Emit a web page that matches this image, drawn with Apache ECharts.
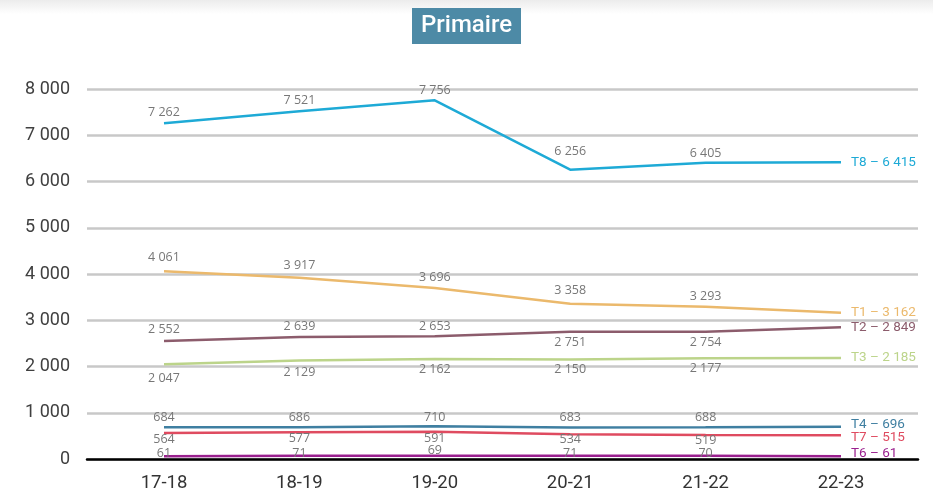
<!DOCTYPE html>
<html><head><meta charset="utf-8">
<script src="https://cdn.jsdelivr.net/npm/echarts@6/dist/echarts.min.js"></script>
<style>html,body{margin:0;padding:0;background:#fff}#c{width:933px;height:493px}</style>
</head><body><div id="c"></div>
<script>
const categories = ['17-18','18-19','19-20','20-21','21-22','22-23'];
const yTicks = [0,1000,2000,3000,4000,5000,6000,7000,8000];
const T8 = [7262, 7521, 7756, 6256, 6405, 6415];
const T1 = [4061, 3917, 3696, 3358, 3293, 3162];
const T2 = [2552, 2639, 2653, 2751, 2754, 2849];
const T3 = [2047, 2129, 2162, 2150, 2177, 2185];
const T4 = [684, 686, 710, 683, 688, 696];
const T7 = [564, 577, 591, 534, 519, 515];
const T6 = [61, 71, 69, 71, 70, 61];

const fmt = v => String(v).replace(/\B(?=(\d{3})+(?!\d))/g, ' ');
const labelFont = "'Open Sans', sans-serif";

function mkPos(name, data, color, positions, endOffsetY, dists) {
  return {
    name, type: 'line', xAxisIndex: 1, yAxisIndex: 1,
    data: data.map((v, i) => ({
      value: v,
      label: { show: i !== data.length - 1, position: positions[i], distance: dists[i] }
    })),
    symbol: 'circle', symbolSize: 0.1, showSymbol: true, smooth: false,
    lineStyle: { color, width: 2.5 },
    itemStyle: { color },
    label: {
      show: true, color: '#777', fontSize: 12.5, fontFamily: labelFont,
      formatter: p => fmt(p.value)
    },
    endLabel: {
      show: true, distance: 10, offset: [0, endOffsetY || 0],
      color, fontSize: 13.5, fontFamily: 'Roboto, sans-serif',
      formatter: p => name + ' \u2013 ' + fmt(p.value)
    },
    z: 6
  };
}

const chart = echarts.init(document.getElementById('c'), null, { renderer: 'canvas' });
const T = 'top', B = 'bottom';
chart.setOption({
  animation: false,
  backgroundColor: '#fff',
  graphic: [{
    type: 'rect', left: 0, top: 0, z: -10,
    shape: { width: 933, height: 14 },
    style: { fill: new echarts.graphic.LinearGradient(0, 0, 0, 1, [
      { offset: 0, color: '#ececec' }, { offset: 1, color: '#ffffff' }]) }
  }],
  title: {
    text: 'Primaire', left: 'center', top: 8,
    backgroundColor: '#4d8aa6', padding: [5, 9, 5, 9],
    textStyle: { color: '#fff', fontSize: 24, fontWeight: 500, fontFamily: 'Roboto, sans-serif', lineHeight: 26 }
  },
  grid: [
    { left: 87, right: 15, top: 89, bottom: 34 },
    { left: 164, right: 92, top: 89, bottom: 34 }
  ],
  xAxis: [
    { type: 'category', gridIndex: 0, data: categories, boundaryGap: true,
      axisLine: { show: true, lineStyle: { color: '#000', width: 2.5 } },
      axisTick: { show: false }, axisLabel: { show: false }, splitLine: { show: false }, z: 5 },
    { type: 'category', gridIndex: 1, data: categories, boundaryGap: false,
      axisLine: { show: false }, axisTick: { show: false }, splitLine: { show: false },
      axisLabel: { color: '#333', fontSize: 18.5, margin: 15, fontFamily: 'Roboto, sans-serif' } }
  ],
  yAxis: [
    { type: 'value', gridIndex: 0, min: 0, max: 8000, interval: 1000,
      axisLine: { show: false }, axisTick: { show: false },
      splitLine: { show: true, lineStyle: { color: '#c8c8c8', width: 2.5 } },
      axisLabel: { color: '#404040', fontSize: 18, margin: 17, fontFamily: 'Roboto, sans-serif',
        formatter: v => yTicks.includes(v) ? fmt(v) : '' } },
    { type: 'value', gridIndex: 1, min: 0, max: 8000, interval: 1000, show: false,
      splitLine: { show: false } }
  ],
  series: [
    mkPos('T8', T8, '#1eaad6', [T,T,T,T,T,T], 0, [4,4,3,12,3,3]),
    mkPos('T1', T1, '#ebb96c', [T,T,T,T,T,T], 0, [7,6,4,7,4,4]),
    mkPos('T2', T2, '#8c5c6c', [T,T,T,B,B,B], 0, [5,4,3,4,4,4]),
    mkPos('T3', T3, '#bcd48a', [B,B,B,B,B,B], 0, [8,5,4,3,4,4]),
    mkPos('T4', T4, '#3f7fa1', [T,T,T,T,T,T], -2, [3,3,2,3,3,3]),
    mkPos('T7', T7, '#df4b60', [B,B,B,B,B,B], 2, [0,0,0,-1,-1,-1]),
    mkPos('T6', T6, '#9a1f8e', [T,T,T,T,T,T], -3, [-4,-4,-1,-4,-4,-4])
  ]
});
</script></body></html>
